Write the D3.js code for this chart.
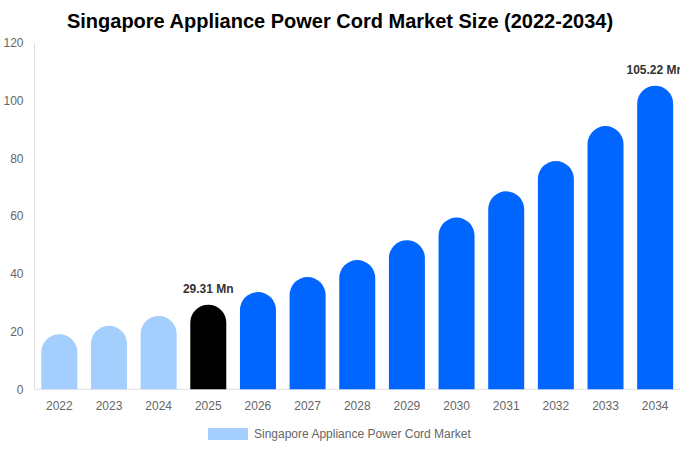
<!DOCTYPE html>
<html><head><meta charset="utf-8">
<script src="https://cdn.jsdelivr.net/npm/d3@7/dist/d3.min.js"></script>
<style>body{margin:0;background:#fff;}svg{display:block;font-family:"Liberation Sans",Arial,sans-serif;}</style>
</head><body>
<svg id="c" width="680" height="450"></svg>
<script>
const years = ["2022","2023","2024","2025","2026","2027","2028","2029","2030","2031","2032","2033","2034"];
const values = [19.1, 22.0, 25.4, 29.31, 33.7, 38.9, 44.8, 51.7, 59.5, 68.6, 79.1, 91.2, 105.22];
const barColors = ["#a3cefd","#a3cefd","#a3cefd","#000000","#0066ff","#0066ff","#0066ff","#0066ff","#0066ff","#0066ff","#0066ff","#0066ff","#0066ff"];
const labeled = {"2025":"29.31 Mn","2034":"105.22 Mn"};
const yTicks = [0,20,40,60,80,100,120];
const title = "Singapore Appliance Power Cord Market Size (2022-2034)";
const legendLabel = "Singapore Appliance Power Cord Market";

const svg = d3.select("#c");
const pL = 34.5, pR = 680, pT = 43, pB = 389.3;
const x = d3.scaleBand().domain(years).range([pL, pR]).paddingInner(0.275).paddingOuter(0.1375);
const y = d3.scaleLinear().domain([0,120]).range([pB, pT]);

svg.append("text").attr("x",340).attr("y",28).attr("text-anchor","middle")
  .attr("font-size",20).attr("font-weight","bold").attr("fill","#000").text(title);

svg.append("line").attr("x1",pL).attr("x2",pL).attr("y1",pT).attr("y2",pB).attr("stroke","#e0e0e0");
svg.append("line").attr("x1",pL).attr("x2",pR).attr("y1",pB).attr("y2",pB).attr("stroke","#e0e0e0");

const yAxis = svg.append("g").attr("transform",`translate(${pL},0)`)
  .call(d3.axisLeft(y).tickValues(yTicks).tickSize(0).tickPadding(11));
yAxis.select(".domain").remove();
yAxis.selectAll("text").attr("font-size",12).attr("fill","#666").attr("font-family","Liberation Sans, Arial, sans-serif");

const xAxis = svg.append("g").attr("transform",`translate(0,${pB})`)
  .call(d3.axisBottom(x).tickSize(0).tickPadding(12));
xAxis.select(".domain").remove();
xAxis.selectAll("text").attr("font-size",12).attr("fill","#666").attr("font-family","Liberation Sans, Arial, sans-serif");

const bw = x.bandwidth(), r = bw/2;
svg.append("g").selectAll("path").data(years).join("path")
  .attr("fill",(d,i)=>barColors[i])
  .attr("d",(d,i)=>{
    const x0 = x(d), x1 = x0+bw, yt = y(values[i]), yb = y(0);
    const rr = Math.min(r, (yb-yt));
    return `M${x0},${yb}L${x0},${yt+rr}A${r},${rr} 0 0 1 ${x1},${yt+rr}L${x1},${yb}Z`;
  });

svg.append("g").selectAll("text").data(years.filter(d=>labeled[d])).join("text")
  .attr("x",d=>x(d)+bw/2).attr("y",d=>y(values[years.indexOf(d)])-12)
  .attr("text-anchor","middle").attr("font-size",12).attr("font-weight","bold").attr("fill","#333")
  .text(d=>labeled[d]);

svg.append("rect").attr("x",208).attr("y",428).attr("width",40).attr("height",12).attr("fill","#a3cefd");
svg.append("text").attr("x",254).attr("y",438).attr("font-size",12).attr("fill","#666").text(legendLabel);
</script>
</body></html>
